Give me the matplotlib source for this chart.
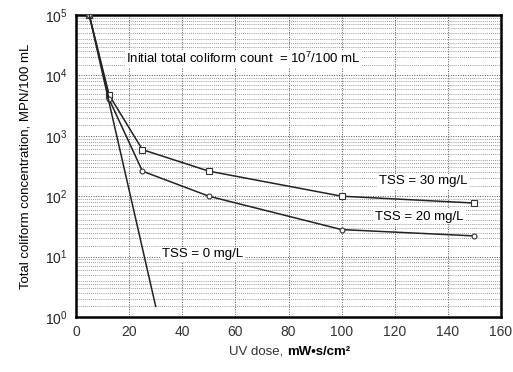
import matplotlib
matplotlib.use("Agg")
import matplotlib.pyplot as plt
from matplotlib.ticker import LogLocator, NullFormatter, FixedLocator

plt.rcParams['font.family'] = ['Liberation Sans', 'DejaVu Sans']
plt.rcParams['mathtext.fontset'] = 'custom'
plt.rcParams['mathtext.rm'] = 'Liberation Sans'
plt.rcParams['mathtext.bf'] = 'Liberation Sans:bold'

dose_30 = [5, 12.5, 25, 50, 100, 150]
tss_30 = [1e5, 4700, 590, 260, 100, 77]
dose_20 = [5, 12.5, 25, 50, 100, 150]
tss_20 = [1e5, 4000, 260, 100, 28, 22]
dose_0 = [5, 12.5, 30]
tss_0 = [1e5, 3500, 1.5]

xticks = [0, 20, 40, 60, 80, 100, 120, 140, 160]
yticks = [1, 10, 100, 1000, 10000, 100000]
ylabels = ['$10^0$', '$10^1$', '$10^2$', '$10^3$', '$10^4$', '$10^5$']

fig = plt.figure(figsize=(5.13, 3.72), dpi=100)
ax = fig.add_axes([76/513, 1-317/372, (501-76)/513, (317-15)/372])
ax.set_yscale('log')
ax.set_xlim(0, 160)
ax.set_ylim(1, 1e5)

ax.plot(dose_30, tss_30, color='#222222', lw=1.1, marker='s', ms=4,
        mfc='white', mec='#333333', mew=0.8, zorder=3)
ax.plot(dose_20, tss_20, color='#222222', lw=1.1, marker='o', ms=3.5,
        mfc='white', mec='#333333', mew=0.8, zorder=3)
ax.plot(dose_0, tss_0, color='#222222', lw=1.1, zorder=3)

ax.set_xticks(xticks)
ax.set_xticklabels([str(v) for v in xticks], fontsize=10, color='#333333')
ax.yaxis.set_major_locator(FixedLocator(yticks))
ax.set_yticklabels(ylabels, fontsize=10, color='#222222')
ax.yaxis.set_minor_locator(LogLocator(base=10, subs=[1.5, 2, 2.5, 3, 3.5, 4, 5, 6, 7, 8, 9], numticks=20))
ax.yaxis.set_minor_formatter(NullFormatter())
ax.tick_params(axis='both', which='both', length=0, pad=6)

ax.grid(True, which='major', axis='both', color='#555555', ls=(0, (1, 1.5)), lw=0.7)
ax.grid(True, which='minor', axis='y', color='#777777', ls=(0, (1, 1.5)), lw=0.6)

for s in ax.spines.values():
    s.set_linewidth(1.8)
    s.set_color('black')

bb = dict(facecolor='white', edgecolor='none', pad=1)
ax.text(19, 1.9e4, 'Initial total coliform count  = 10$^7$/100 mL', fontsize=9.5,
        va='center', ha='left', bbox=bb, zorder=4)
ax.text(114, 178, 'TSS = 30 mg/L', fontsize=9.5, va='center', ha='left', bbox=bb, zorder=4)
ax.text(112.5, 46, 'TSS = 20 mg/L', fontsize=9.5, va='center', ha='left', bbox=bb, zorder=4)
ax.text(32.5, 11, 'TSS = 0 mg/L', fontsize=9.5, va='center', ha='left', bbox=bb, zorder=4)

ax.set_ylabel('Total coliform concentration, MPN/100 mL', fontsize=9.5, labelpad=10)
fig.text(287/513, 1-352/372, 'UV dose, ', fontsize=9.5, ha='right', va='center',
         color='#333333')
fig.text(287/513, 1-352/372, 'mW•s/cm²', fontsize=9.5, ha='left', va='center',
         fontweight='bold')

fig.savefig('out.png', dpi=100)
